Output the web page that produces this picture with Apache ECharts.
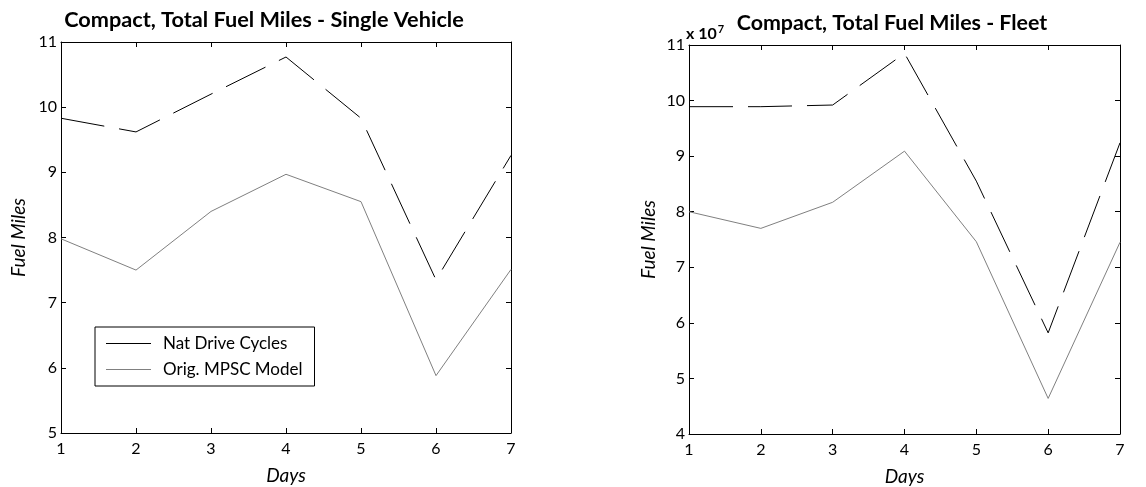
<!DOCTYPE html>
<html>
<head>
<meta charset="utf-8">
<script src="https://cdn.jsdelivr.net/npm/echarts@6/dist/echarts.min.js"></script>
<style>
  html, body { margin: 0; padding: 0; background: #fff; }
  #chart { width: 1146px; height: 487px; }
</style>
</head>
<body>
<div id="chart"></div>
<script>
// Days on the horizontal axis
const days = [1, 2, 3, 4, 5, 6, 7];

// Single vehicle fuel miles
const singleNat = [9.83, 9.62, 10.2, 10.77, 9.83, 7.35, 9.26];
const singleOrig = [7.98, 7.5, 8.4, 8.97, 8.55, 5.88, 7.51];

// Fleet fuel miles (absolute values)
const fleetNat = [9.89e7, 9.89e7, 9.92e7, 10.85e7, 8.55e7, 5.82e7, 9.24e7];
const fleetOrig = [8.0e7, 7.7e7, 8.17e7, 9.09e7, 7.46e7, 4.64e7, 7.45e7];

const seriesNames = ['Nat Drive Cycles', 'Orig. MPSC Model'];
const titles = ['Compact, Total Fuel Miles - Single Vehicle', 'Compact, Total Fuel Miles - Fleet'];
const FLEET_SCALE = 1e7;

const FONT = 'Lato, "Open Sans", sans-serif';
const pair = (vals) => days.map((d, i) => [d, vals[i]]);

const tickStyle = { show: true, inside: true, length: 5, lineStyle: { color: '#000', width: 1 } };
const lineAxis = { show: true, onZero: false, lineStyle: { color: '#000', width: 1 } };
const labelStyle = { color: '#000', fontFamily: FONT, fontSize: 16 };
const nameStyle = { color: '#000', fontFamily: FONT, fontSize: 19, fontStyle: 'italic' };

function xAxes(gridIndex) {
  return [
    {
      type: 'value', gridIndex, position: 'bottom', min: 1, max: 7, interval: 1,
      axisLine: lineAxis, axisTick: tickStyle, splitLine: { show: false },
      axisLabel: Object.assign({ margin: 8 }, labelStyle),
      name: 'Days', nameLocation: 'middle', nameGap: 33, nameTextStyle: nameStyle
    },
    {
      type: 'value', gridIndex, position: 'top', min: 1, max: 7, interval: 1,
      axisLine: lineAxis, axisTick: tickStyle, splitLine: { show: false },
      axisLabel: { show: false }
    }
  ];
}

function yAxes(gridIndex, min, max, interval, fmt, gap) {
  return [
    {
      type: 'value', gridIndex, position: 'left', min, max, interval,
      axisLine: lineAxis, axisTick: tickStyle, splitLine: { show: false },
      axisLabel: Object.assign({ margin: 4, formatter: fmt }, labelStyle),
      name: 'Fuel Miles', nameLocation: 'middle', nameGap: gap, nameTextStyle: nameStyle
    },
    {
      type: 'value', gridIndex, position: 'right', min, max, interval,
      axisLine: lineAxis, axisTick: tickStyle, splitLine: { show: false },
      axisLabel: { show: false }
    }
  ];
}

const natStyle = { color: '#000', width: 1, type: [44, 15] };
const origStyle = { color: '#808080', width: 1, type: 'solid' };

function lineSeries(name, data, xi, yi, style) {
  return {
    name, type: 'line', data: pair(data), xAxisIndex: xi, yAxisIndex: yi,
    symbol: 'none', showSymbol: false, lineStyle: style, itemStyle: { color: style.color },
    animation: false, silent: true, clip: true
  };
}

const chart = echarts.init(document.getElementById('chart'), null, { renderer: 'canvas' });
chart.setOption({
  backgroundColor: '#fff',
  animation: false,
  title: [
    { text: titles[0], left: 259, top: 4, textAlign: 'center',
      textStyle: { fontFamily: FONT, fontSize: 21.7, fontWeight: 'bold', color: '#000' } },
    { text: titles[1], left: 887, top: 8, textAlign: 'center',
      textStyle: { fontFamily: FONT, fontSize: 21.4, fontWeight: 'bold', color: '#000' } },
    { text: '{b|x 10}{s|7}', left: 681, top: 19,
      textStyle: { rich: {
        b: { fontFamily: FONT, fontSize: 16, color: '#000' },
        s: { fontFamily: FONT, fontSize: 11, color: '#000', verticalAlign: 'top', padding: [0, 0, 9, 1] }
      } } }
  ],
  grid: [
    { left: 61, top: 42, width: 450, height: 391, show: false, outerBoundsMode: 'none' },
    { left: 689, top: 45, width: 431, height: 389, show: false, outerBoundsMode: 'none' }
  ],
  xAxis: [...xAxes(0), ...xAxes(1)],
  yAxis: [
    ...yAxes(0, 5, 11, 1, (v) => String(v), 33),
    ...yAxes(1, 4 * FLEET_SCALE, 11 * FLEET_SCALE, FLEET_SCALE, (v) => String(Math.round(v / FLEET_SCALE)), 31)
  ],
  legend: {
    data: seriesNames,
    orient: 'vertical',
    left: 95, top: 327,
    icon: 'rect',
    itemWidth: 45, itemHeight: 1, itemGap: 9,
    padding: [8, 12, 8, 11],
    borderColor: '#000', borderWidth: 1, borderRadius: 0,
    backgroundColor: '#fff',
    selectedMode: false,
    textStyle: { fontFamily: FONT, fontSize: 17, color: '#000', padding: [0, 0, 0, 7] }
  },
  series: [
    lineSeries(seriesNames[0], singleNat, 0, 0, natStyle),
    lineSeries(seriesNames[1], singleOrig, 0, 0, origStyle),
    lineSeries(seriesNames[0], fleetNat, 2, 2, natStyle),
    lineSeries(seriesNames[1], fleetOrig, 2, 2, origStyle)
  ]
});
</script>
</body>
</html>
